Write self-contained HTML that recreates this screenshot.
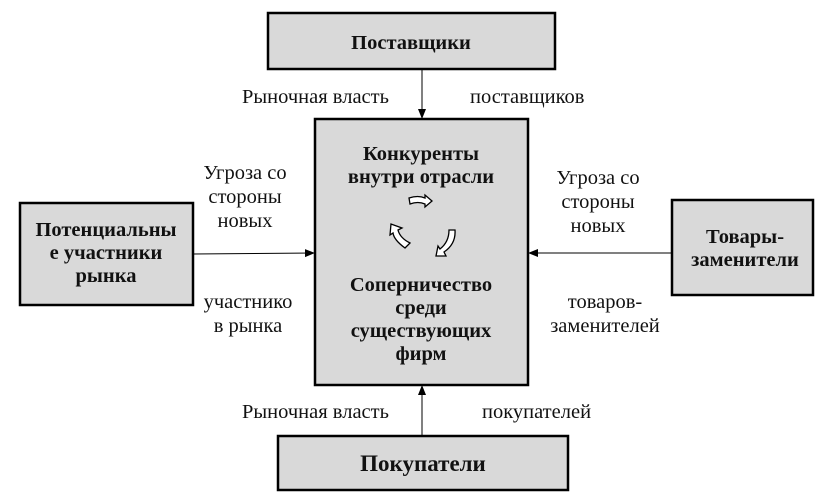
<!DOCTYPE html>
<html><head><meta charset="utf-8"><style>
body{margin:0;background:#fff}
svg{display:block}
text{font-family:"Liberation Serif","DejaVu Serif",serif;fill:#111}
.b{font-weight:bold;font-size:20.5px}
.l{font-size:20.5px}
</style></head><body>
<svg width="838" height="501" viewBox="0 0 838 501">
<defs><marker id="a" markerWidth="10" markerHeight="10" refX="9" refY="5" orient="auto" markerUnits="userSpaceOnUse"><path d="M0,1 L10,5 L0,9z" fill="#000"/></marker></defs>
<g fill="#d9d9d9" stroke="#000" stroke-width="2.5">
<rect x="268" y="13" width="287" height="56"/>
<rect x="315" y="119" width="213" height="266"/>
<rect x="20" y="203" width="173" height="102"/>
<rect x="672" y="200" width="141" height="95"/>
<rect x="278" y="436" width="290" height="54"/>
</g>
<g stroke="#000" stroke-width="1" marker-end="url(#a)">
<line x1="422" y1="69" x2="422" y2="118"/>
<line x1="422" y1="436" x2="422" y2="386"/>
<line x1="193" y1="254" x2="314" y2="253"/>
<line x1="672" y1="253" x2="529" y2="253"/>
</g>
<g text-anchor="middle" class="b">
<text x="411" y="49">Поставщики</text>
<text x="421" y="160">Конкуренты</text>
<text x="421" y="183">внутри отрасли</text>
<text x="421" y="291">Соперничество</text>
<text x="421" y="314">среди</text>
<text x="421" y="337">существующих</text>
<text x="421" y="360">фирм</text>
<text x="106" y="236">Потенциальны</text>
<text x="106" y="259">е участники</text>
<text x="106" y="282">рынка</text>
<text x="745" y="243">Товары-</text>
<text x="745" y="266">заменители</text>
<text x="423" y="471" style="font-size:23px">Покупатели</text>
</g>
<g class="l">
<text x="242" y="103">Рыночная власть</text>
<text x="470" y="103">поставщиков</text>
<text x="242" y="418">Рыночная власть</text>
<text x="482" y="418">покупателей</text>
<g text-anchor="middle">
<text x="245" y="179">Угроза со</text>
<text x="245" y="203">стороны</text>
<text x="245" y="227">новых</text>
<text x="248" y="308">участнико</text>
<text x="248" y="332">в рынка</text>
<text x="598" y="184">Угроза со</text>
<text x="598" y="208">стороны</text>
<text x="598" y="232">новых</text>
<text x="605" y="308">товаров-</text>
<text x="605" y="332">заменителей</text>
</g></g>
<g fill="#fff" stroke="#000" stroke-width="1.3">
<path d="M409,198 Q418,195 425,198 L425,195 L432,201 L425,207 L425,204 Q418,201 410,204 z"/>
<path d="M405,248 Q394,240 393,233 L390,235 L391,224 L402,228 L398,230 Q400,238 410,243 z"/>
<path d="M455,230 Q456,244 444,252 L446,256 L436,256 L438,246 L440,249 Q449,242 449,230 z"/>
</g>
</svg>
</body></html>
